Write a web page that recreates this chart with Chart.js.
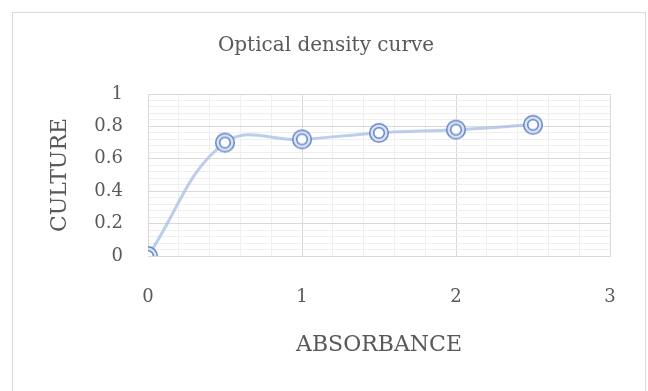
<!DOCTYPE html>
<html>
<head>
<meta charset="utf-8">
<script src="https://cdn.jsdelivr.net/npm/chart.js@4"></script>
<style>
  html, body { margin: 0; padding: 0; background: #fff; }
  #wrap { width: 648px; height: 391px; position: relative; }
</style>
</head>
<body>
<div id="wrap"><canvas id="odChart" width="648" height="391"></canvas></div>
<script>
// data
var absorbance = [0, 0.5, 1, 1.5, 2, 2.5];
var culture = [0, 0.7, 0.72, 0.76, 0.78, 0.81];
var xTickLabels = ['0', '1', '2', '3'];
var yTickLabels = ['0', '0.2', '0.4', '0.6', '0.8', '1'];

var FONT = '"DejaVu Serif", "Liberation Serif", serif';
var TXT = '#595959';
var MAJOR = '#d9d9d9';
var MINOR = '#efefef';

// double ring marker
function makeMarker() {
    var c = document.createElement('canvas');
    c.width = 24; c.height = 24;
    var g = c.getContext('2d');
    g.beginPath(); g.arc(12, 12, 9.3, 0, Math.PI * 2);
    g.fillStyle = 'rgba(215,226,244,1)'; g.fill();
    g.lineWidth = 1.5; g.strokeStyle = 'rgba(90,124,188,0.9)'; g.stroke();
    g.beginPath(); g.arc(12, 12, 5.3, 0, Math.PI * 2);
    g.fillStyle = '#fafcff'; g.fill();
    g.lineWidth = 1.5; g.strokeStyle = 'rgba(90,124,188,0.9)'; g.stroke();
    return c;
}

function isMajor(v, step) {
    return Math.abs(v / step - Math.round(v / step)) < 1e-6;
}

var frame = {
    id: 'frame',
    beforeDraw: function (chart) {
        var g = chart.ctx;
        g.save();
        g.strokeStyle = '#d9d9d9';
        g.lineWidth = 1;
        g.strokeRect(12.5, 12.5, 633, 400);
        g.restore();
    }
};

var pts = absorbance.map(function (x, i) { return {x: x, y: culture[i]}; });

new Chart(document.getElementById('odChart'), {
    type: 'scatter',
    data: {
        datasets: [{
            label: 'culture',
            data: pts,
            showLine: true,
            tension: 0.4,
            borderColor: 'rgba(165,190,228,0.75)',
            borderWidth: 3,
            pointStyle: makeMarker(),
            pointRadius: 10,
            pointHoverRadius: 10
        }]
    },
    options: {
        responsive: false,
        animation: false,
        layout: {padding: {left: 42, right: 38, top: 0, bottom: 33}},
        plugins: {
            legend: {display: false},
            tooltip: {enabled: false},
            title: {
                display: true,
                text: 'Optical density curve',
                color: TXT,
                font: {family: FONT, size: 20, weight: 'normal'},
                padding: {top: 34, bottom: 36}
            }
        },
        scales: {
            x: {
                type: 'linear',
                min: 0, max: 3,
                afterFit: function (s) { s.height = 102; },
                ticks: {
                    stepSize: 0.2,
                    autoSkip: false,
                    maxRotation: 0,
                    padding: 31,
                    color: TXT,
                    font: {family: FONT, size: 18},
                    callback: function (v) {
                        return isMajor(v, 1) ? xTickLabels[Math.round(v)] : '';
                    }
                },
                grid: {
                    drawTicks: false,
                    color: function (c) { return isMajor(c.tick.value, 1) ? MAJOR : MINOR; }
                },
                border: {color: MAJOR},
                title: {
                    display: true,
                    text: 'ABSORBANCE',
                    color: TXT,
                    font: {family: FONT, size: 22},
                    padding: {top: 0, bottom: 0}
                }
            },
            y: {
                min: 0, max: 1,
                afterFit: function (s) { s.width = 106; },
                ticks: {
                    stepSize: 0.04,
                    autoSkip: false,
                    maxTicksLimit: 40,
                    padding: 25,
                    color: TXT,
                    font: {family: FONT, size: 18},
                    callback: function (v) {
                        return isMajor(v, 0.2) ? yTickLabels[Math.round(v * 5)] : '';
                    }
                },
                grid: {
                    drawTicks: false,
                    color: function (c) { return isMajor(c.tick.value, 0.2) ? MAJOR : MINOR; }
                },
                border: {color: MAJOR},
                title: {
                    display: true,
                    text: 'CULTURE',
                    color: TXT,
                    font: {family: FONT, size: 22},
                    padding: {top: 5, bottom: 0}
                }
            }
        }
    },
    plugins: [frame]
});
</script>
</body>
</html>
